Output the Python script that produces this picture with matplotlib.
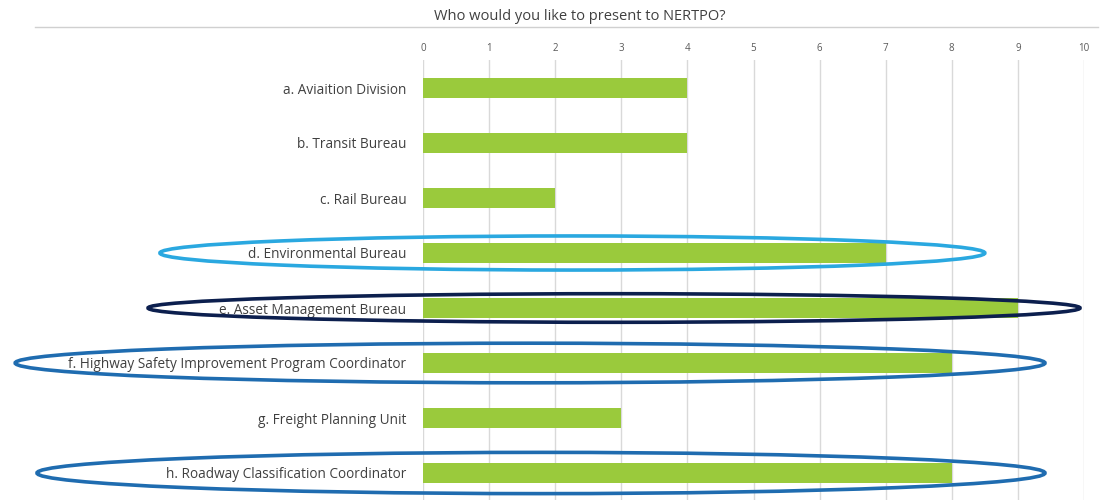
import matplotlib.pyplot as plt
from matplotlib.patches import Ellipse
from matplotlib.lines import Line2D

labels = ["a. Aviaition Division", "b. Transit Bureau", "c. Rail Bureau",
          "d. Environmental Bureau", "e. Asset Management Bureau",
          "f. Highway Safety Improvement Program Coordinator",
          "g. Freight Planning Unit", "h. Roadway Classification Coordinator"]
counts = [4, 4, 2, 7, 9, 8, 3, 8]

# highlight rings: (category index, x-left, x-right, height, colour)
rings = [(3, -3.98, 8.5, 0.62, "#2aa8e0"),
         (4, -4.16, 9.94, 0.52, "#0c1f4e"),
         (5, -6.17, 9.41, 0.72, "#1f6cb0"),
         (7, -5.84, 9.41, 0.75, "#1f6cb0")]

plt.rcParams['font.family'] = ['Open Sans', 'DejaVu Sans']

fig = plt.figure(figsize=(11.04, 5.0), dpi=100)
ax = fig.add_axes([423 / 1104, 0, (1084 - 423) / 1104, 440 / 500])

ypos = list(range(len(labels)))
ax.barh(ypos, counts, height=0.37, color="#9aca3c", zorder=2)
ax.set_xlim(0, 10)
ax.set_ylim(7 + 27 / 55, -28 / 55)
ax.set_xticks(range(0, 11))
ax.xaxis.tick_top()
ax.tick_params(axis="x", length=0, labelsize=7, labelcolor="#595959", pad=4)
ax.set_yticks(ypos)
ax.set_yticklabels(labels, fontsize=9.8, color="#404040")
ax.tick_params(axis="y", length=0, pad=12)
ax.grid(axis="x", color="#d9d9d9", linewidth=1, zorder=0)
for s in ax.spines.values():
    s.set_visible(False)

for i, x0, x1, h, c in rings:
    e = Ellipse(((x0 + x1) / 2, i), x1 - x0, h, fill=False, edgecolor=c,
                linewidth=2.6, clip_on=False, zorder=3)
    ax.add_patch(e)

fig.add_artist(Line2D([35 / 1104, 1098 / 1104], [1 - 27 / 500, 1 - 27 / 500],
                      color="#d0d0d0", linewidth=1))
fig.text(580 / 1104, 1 - 16 / 500, "Who would you like to present to NERTPO?",
         ha="center", va="center", fontsize=10.5, color="#404040")

fig.savefig("out.png", dpi=100)
